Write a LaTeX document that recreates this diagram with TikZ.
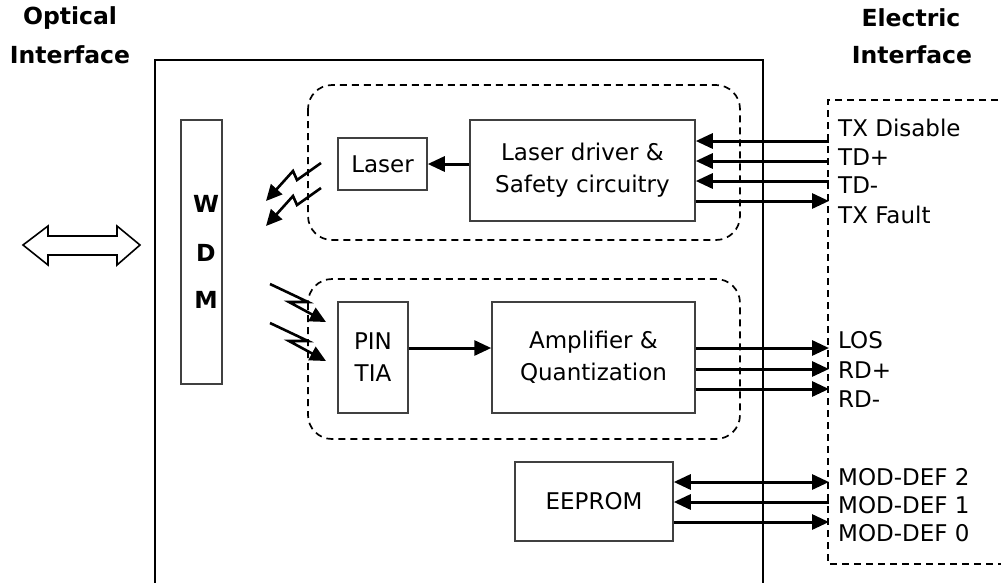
\documentclass[tikz,border=0pt]{standalone}
\usepackage{fontspec}
\setmainfont{DejaVu Sans}
\usetikzlibrary{arrows.meta}
\begin{document}
\begin{tikzpicture}[x=1pt,y=-1pt,
  txt/.style={font=\fontsize{23}{32}\selectfont, inner sep=0pt},
  ttl/.style={font=\fontsize{23.5}{32}\selectfont\bfseries, inner sep=0pt},
  blk/.style={draw=black!75, line width=1.5pt, inner sep=0pt, align=center, font=\fontsize{23}{32}\selectfont},
  grp/.style={draw=black, line width=1.7pt, dash pattern=on 7pt off 5pt, rounded corners=24pt},
  sig/.style={line width=3pt, -{Triangle[length=17pt,width=15pt]}},
  bsig/.style={line width=3pt, {Triangle[length=17pt,width=15pt]}-{Triangle[length=17pt,width=15pt]}},
  ray/.style={line width=2.6pt, -{Triangle[length=16pt,width=15pt]}}
]
\useasboundingbox (0,0) rectangle (1001,582);
% titles
\node[ttl] (t1) at (70,18) {Optical};
\node[ttl] (t2) at (70,55) {Interface};
\node[ttl] (t3) at (911,18) {Electric};
\node[ttl] (t4) at (912,55) {Interface};
% main module box
\draw[line width=2.3pt] (155,600) -- (155,60) -- (763,60) -- (763,600);
% electric interface box
\draw[line width=1.7pt, dash pattern=on 7pt off 5pt] (1010,100) -- (828,100) -- (828,564) -- (1010,564);
% group outlines
\draw[grp] (308,85) rectangle (740,240);
\draw[grp] (308,279) rectangle (740,439);
% blocks
\node[blk, minimum width=41pt, minimum height=264pt] (wdm) at (201.5,252) {};
\node[ttl] (w) at (206,204) {W};
\node[ttl] (d) at (206,253) {D};
\node[ttl] (m) at (206,300) {M};
\node[blk, minimum width=89pt, minimum height=52pt] (laser) at (382.5,164) {Laser};
\node[blk, minimum width=225pt, minimum height=101pt] (ldrv) at (582.5,170.5) {Laser driver \&\\Safety circuitry};
\node[blk, minimum width=70pt, minimum height=111pt] (pin) at (373,357.5) {PIN\\TIA};
\node[blk, minimum width=203pt, minimum height=111pt] (amp) at (593.5,357.5) {Amplifier \&\\Quantization};
\node[blk, minimum width=158pt, minimum height=79pt] (eep) at (594,501.5) {EEPROM};
% internal arrows
\draw[sig] (ldrv.west |- 0,164) -- (laser.east |- 0,164);
\draw[sig] (pin.east |- 0,348) -- (amp.west |- 0,348);
% interface coordinates
\coordinate (c1) at (829,141);
\coordinate (c2) at (829,161);
\coordinate (c3) at (829,181);
\coordinate (c4) at (829,201);
\coordinate (c5) at (829,348);
\coordinate (c6) at (829,369);
\coordinate (c7) at (829,389);
\coordinate (c8) at (829,482);
\coordinate (c9) at (829,502);
\coordinate (c10) at (829,522);
\draw[sig] (c1) -- (c1 -| ldrv.east);
\draw[sig] (c2) -- (c2 -| ldrv.east);
\draw[sig] (c3) -- (c3 -| ldrv.east);
\draw[sig] (c4 -| ldrv.east) -- (c4);
\draw[sig] (c5 -| amp.east) -- (c5);
\draw[sig] (c6 -| amp.east) -- (c6);
\draw[sig] (c7 -| amp.east) -- (c7);
\draw[bsig] (c8 -| eep.east) -- (c8);
\draw[sig] (c9) -- (c9 -| eep.east);
\draw[sig] (c10 -| eep.east) -- (c10);
% labels
\node[txt, anchor=west] (l1) at (838,128) {TX Disable};
\node[txt, anchor=west] (l2) at (838,157) {TD+};
\node[txt, anchor=west] (l3) at (838,185) {TD-};
\node[txt, anchor=west] (l4) at (838,215) {TX Fault};
\node[txt, anchor=west] (l5) at (838,340) {LOS};
\node[txt, anchor=west] (l6) at (838,370) {RD+};
\node[txt, anchor=west] (l7) at (838,399) {RD-};
\node[txt, anchor=west] (l8) at (838,477) {MOD-DEF 2};
\node[txt, anchor=west] (l9) at (838,505) {MOD-DEF 1};
\node[txt, anchor=west] (l10) at (838,533) {MOD-DEF 0};
% optical rays
\draw[ray] (321,163) -- (297,180) -- (293,171) -- (266,201);
\draw[ray] (321,188) -- (297,205) -- (293,196) -- (266,226);
\draw[ray] (270,284) -- (308,302) -- (289,302) -- (326,322);
\draw[ray] (270,323) -- (308,341) -- (289,341) -- (326,361);
% bidirectional optical arrow
\draw[line width=1.6pt, fill=white] (23,245) -- (48,226) -- (48,236) -- (117,236) -- (117,226) -- (140,245) -- (117,265) -- (117,255) -- (48,255) -- (48,265) -- cycle;
\end{tikzpicture}
\end{document}
